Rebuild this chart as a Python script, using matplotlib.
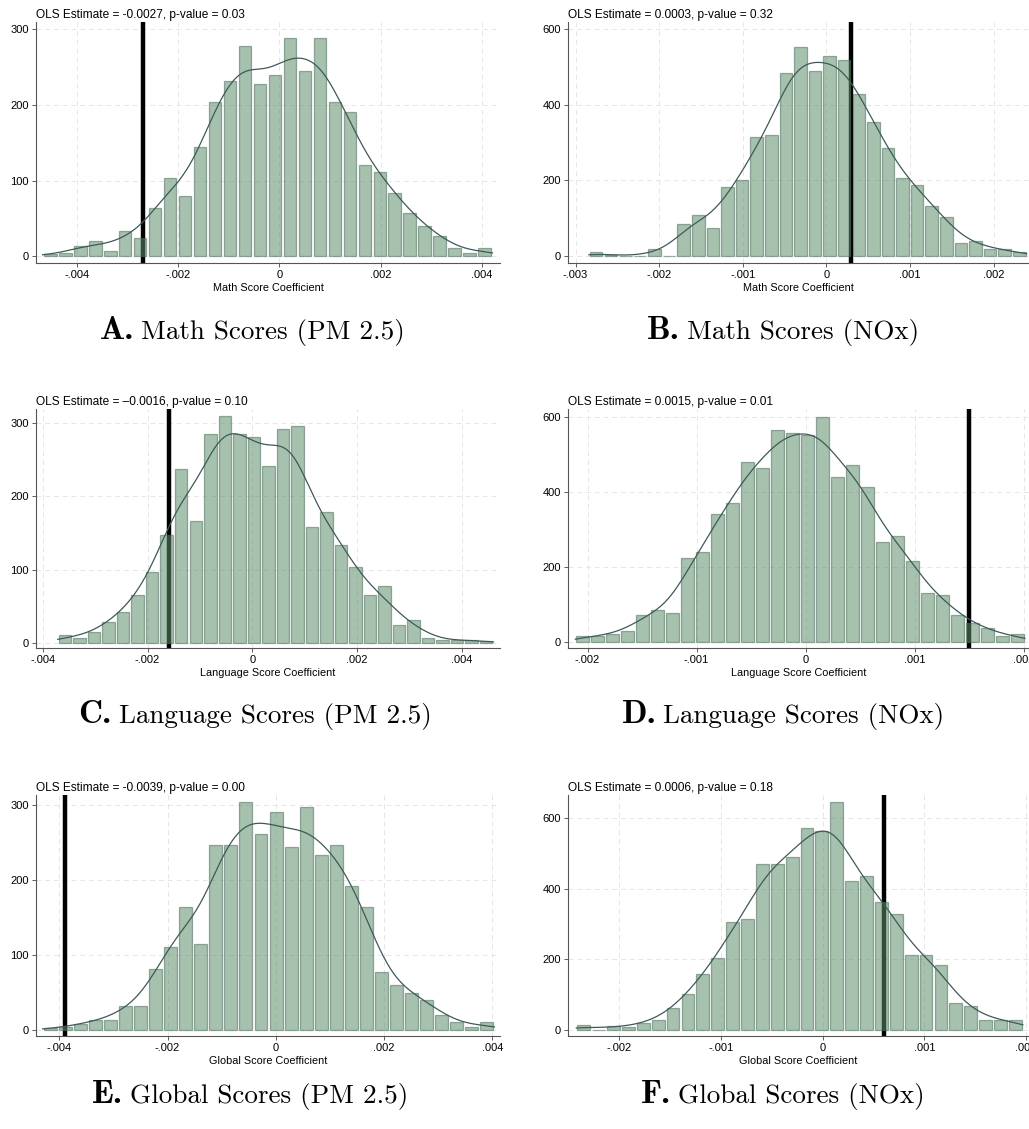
import numpy as np
import matplotlib.pyplot as plt
from matplotlib.offsetbox import TextArea, HPacker, AnnotationBbox

# bar counts, 30 equal bins per panel
math_pm25_counts = [3, 4, 13, 20, 7, 34, 24, 64, 104, 80, 144, 204, 232, 278, 228,
                    239, 289, 245, 289, 204, 191, 121, 111, 84, 57, 40, 27, 11, 4, 11]
math_nox_counts = [11, 4, 0, 0, 18, 0, 86, 108, 74, 182, 200, 314, 319, 483, 552,
                   489, 529, 517, 428, 354, 285, 206, 187, 132, 103, 34, 40, 18, 18, 11]
lang_pm25_counts = [11, 7, 15, 29, 43, 65, 97, 147, 237, 166, 284, 309, 284, 280, 241,
                    291, 295, 158, 179, 133, 104, 65, 78, 25, 32, 7, 4, 4, 4, 3]
lang_nox_counts = [16, 16, 22, 29, 72, 87, 79, 223, 240, 341, 371, 479, 464, 564, 557,
                   551, 600, 441, 471, 413, 268, 283, 217, 131, 125, 72, 50, 37, 16, 21]
glob_pm25_counts = [3, 4, 8, 14, 14, 33, 33, 82, 111, 165, 115, 247, 247, 305, 262,
                    291, 244, 298, 234, 247, 193, 165, 78, 61, 50, 40, 21, 11, 4, 11]
glob_nox_counts = [14, 0, 10, 7, 20, 27, 61, 102, 157, 204, 306, 314, 470, 470, 490,
                   572, 564, 645, 422, 436, 361, 327, 212, 212, 183, 76, 67, 28, 28, 27]

# first and last bin edge of each histogram
math_pm25_range = (-0.00468, 0.00421)
math_nox_range = (-0.00284, 0.002395)
lang_pm25_range = (-0.003714, 0.0046)
lang_nox_range = (-0.002113, 0.002012)
glob_pm25_range = (-0.004308, 0.004037)
glob_nox_range = (-0.002423, 0.001967)

ols_estimates = [-0.0027, 0.0003, -0.0016, 0.0015, -0.0039, 0.0006]
titles = [
    "OLS Estimate = -0.0027, p-value = 0.03",
    "OLS Estimate = 0.0003, p-value = 0.32",
    "OLS Estimate = \u20130.0016, p-value = 0.10",
    "OLS Estimate = 0.0015, p-value = 0.01",
    "OLS Estimate = -0.0039, p-value = 0.00",
    "OLS Estimate = 0.0006, p-value = 0.18",
]
xlabels = ["Math Score Coefficient"] * 2 + ["Language Score Coefficient"] * 2 + ["Global Score Coefficient"] * 2
letters = ["A.", "B.", "C.", "D.", "E.", "F."]
captions = ["Math Scores (PM 2.5)", "Math Scores (NOx)",
            "Language Scores (PM 2.5)", "Language Scores (NOx)",
            "Global Scores (PM 2.5)", "Global Scores (NOx)"]

xticks_pm25 = [-0.004, -0.002, 0, 0.002, 0.004]
xticks_math_nox = [-0.003, -0.002, -0.001, 0, 0.001, 0.002]
xticks_nox = [-0.002, -0.001, 0, 0.001, 0.002]
yticks_300 = [0, 100, 200, 300]
yticks_600 = [0, 200, 400, 600]

panels = [
    dict(counts=math_pm25_counts, rng=math_pm25_range, xticks=xticks_pm25, yticks=yticks_300,
         xlim=(-0.00481, 0.00436), ylim=(-9.2, 310)),
    dict(counts=math_nox_counts, rng=math_nox_range, xticks=xticks_math_nox, yticks=yticks_600,
         xlim=(-0.00309, 0.002424), ylim=(-18.5, 619)),
    dict(counts=lang_pm25_counts, rng=lang_pm25_range, xticks=xticks_pm25, yticks=yticks_300,
         xlim=(-0.00413, 0.004725), ylim=(-7, 318)),
    dict(counts=lang_nox_counts, rng=lang_nox_range, xticks=xticks_nox, yticks=yticks_600,
         xlim=(-0.00218, 0.00205), ylim=(-16, 620)),
    dict(counts=glob_pm25_counts, rng=glob_pm25_range, xticks=xticks_pm25, yticks=yticks_300,
         xlim=(-0.00443, 0.00414), ylim=(-7.6, 314)),
    dict(counts=glob_nox_counts, rng=glob_nox_range, xticks=xticks_nox, yticks=yticks_600,
         xlim=(-0.002505, 0.002028), ylim=(-18, 666)),
]

W, H = 1029, 1129
# axes boxes in pixels: left, top, right, bottom
boxes = [
    (36, 21.7, 500, 263.3), (568, 21.7, 1029, 263.3),
    (36, 409.3, 500, 648.3), (568, 409.3, 1029, 648.3),
    (36, 795, 500, 1036), (568, 795, 1029, 1036),
]
# caption centre x and baseline y, pixels
caption_xy = [(252, 342), (783, 342), (255, 726), (783, 726), (250, 1106), (783, 1106)]

bar_color = "#5d8f6b"
edge_color = "#4e6e5c"
kde_color = "#3d5a58"


def fmt_tick(v):
    if abs(v) < 1e-12:
        return "0"
    s = ("%.3f" % v).replace("0.", ".", 1)
    return s


def smooth_curve(edges, counts, bw):
    centers = (edges[:-1] + edges[1:]) / 2
    w = edges[1] - edges[0]
    xs = np.linspace(edges[0], edges[-1], 400)
    k = np.exp(-0.5 * ((xs[:, None] - centers[None, :]) / bw) ** 2) / (bw * np.sqrt(2 * np.pi))
    return xs, (k * np.asarray(counts)[None, :]).sum(axis=1) * w


plt.rcParams['font.family'] = ['Liberation Sans', 'DejaVu Sans']
fig = plt.figure(figsize=(W / 100, H / 100), dpi=100)

for i, p in enumerate(panels):
    l, t, r, b = boxes[i]
    ax = fig.add_axes([l / W, 1 - b / H, (r - l) / W, (b - t) / H])

    counts = np.array(p['counts'], dtype=float)
    edges = np.linspace(p['rng'][0], p['rng'][1], len(counts) + 1)
    w = edges[1] - edges[0]
    centers = (edges[:-1] + edges[1:]) / 2

    ax.axvline(ols_estimates[i], color='black', lw=3.2, zorder=1)
    ax.bar(centers, counts, width=w * 0.86, color=bar_color, alpha=0.55,
           edgecolor=edge_color, linewidth=0.9, zorder=2)
    xs, ys = smooth_curve(edges, counts, 1.2 * w)
    ax.plot(xs, ys, color=kde_color, lw=0.9, zorder=3)

    ax.set_xlim(*p['xlim'])
    ax.set_ylim(*p['ylim'])
    ax.set_xticks(p['xticks'])
    ax.set_xticklabels([fmt_tick(v) for v in p['xticks']])
    ax.set_yticks(p['yticks'])
    ax.tick_params(labelsize=8, length=3, width=0.6, color='#444444', pad=2)
    ax.grid(True, color='#e6e6e6', linestyle=(0, (5, 4)), lw=0.7, zorder=0)
    ax.set_axisbelow(True)
    for side in ['top', 'right']:
        ax.spines[side].set_visible(False)
    for side in ['left', 'bottom']:
        ax.spines[side].set_color('#555555')
        ax.spines[side].set_linewidth(0.8)
    ax.set_title(titles[i], loc='left', fontsize=8.6, pad=3)
    ax.set_xlabel(xlabels[i], fontsize=7.8, labelpad=2)

    box = HPacker(children=[
        TextArea(letters[i], textprops=dict(family='cmb10', size=24)),
        TextArea(captions[i], textprops=dict(family='cmr10', size=19.5)),
    ], align='baseline', pad=0, sep=5)
    cx, cy = caption_xy[i]
    ab = AnnotationBbox(box, (cx / W, 1 - cy / H), xycoords='figure fraction',
                        frameon=False, box_alignment=(0.5, 0.12))
    fig.add_artist(ab)

fig.savefig("out.png", dpi=100)
